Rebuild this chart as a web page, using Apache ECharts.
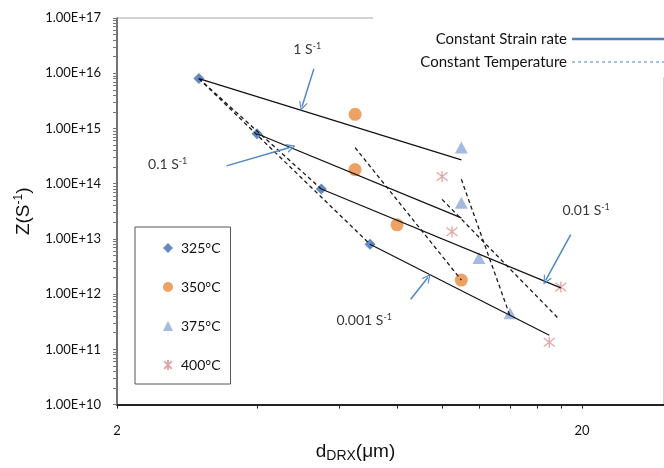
<!DOCTYPE html>
<html>
<head>
<meta charset="utf-8">
<script src="https://cdn.jsdelivr.net/npm/echarts@6/dist/echarts.min.js"></script>
<style>
  html, body { margin: 0; padding: 0; background: #fff; }
  #main { width: 664px; height: 468px; }
</style>
</head>
<body>
<div id="main"></div>
<script>
// grain size (um) and Zener-Hollomon parameter
const temps = ['325°C', '350°C', '375°C', '400°C'];
const d325 = [3, 4, 5.5, 7];
const z325 = [8e15, 8e14, 8e13, 8e12];
const d350 = [6.5, 6.5, 8, 11];
const z350 = [1.8e15, 1.8e14, 1.8e13, 1.8e12];
const d375 = [11, 11, 12, 14];
const z375 = [4.5e14, 4.5e13, 4.5e12, 4.5e11];
const d400 = [10, 10.5, 18, 17];
const z400 = [1.35e14, 1.35e13, 1.35e12, 1.35e11];

// fitted lines, start and end points
const rateLineD = [[3, 11], [4, 11], [5.5, 18], [7, 17]];
const rateLineZ = [[8e15, 2.7e14], [8e14, 2.4e13], [8e13, 1.3e12], [8e12, 1.8e11]];
const tempLineD = [[3, 5.5], [3, 7], [6.5, 11], [11, 14], [10, 17.8]];
const tempLineZ = [[8e15, 8e13], [8e15, 8e12], [4.5e14, 1.8e12], [1.2e14, 4e11], [5.2e13, 3.6e11]];

// strain rate notes and their arrows
const rateLabels = ['1', '0.1', '0.01', '0.001'];
const noteD = [5.13, 2.57, 20.4, 6.8];
const noteZ = [2.7e16, 2.2e14, 3.3e13, 3.3e11];
const arrowFromD = [5.3, 3.44, 18.9, 8.56];
const arrowFromZ = [1.2e16, 2.1e14, 1.2e13, 8.1e11];
const arrowToD = [5.0, 4.74, 16.7, 9.32];
const arrowToZ = [2.5e15, 4.6e14, 1.77e12, 2e12];

const xTickLabels = [2, 20];
const xTicks = [2, 4, 6, 8, 10, 12, 14, 16, 18, 20];
const yTickLabels = [1e10, 1e11, 1e12, 1e13, 1e14, 1e15, 1e16, 1e17];

const yTicks = [];
for (let k = 10; k < 17; k++) {
  for (let m = 1; m < 10; m++) yTicks.push(m * Math.pow(10, k));
}
yTicks.push(1e17);

const zip = (xs, ys) => xs.map((x, i) => [x, ys[i]]);

const font = 'Lato';
const asterisk = 'path://M0,0 L10,10 M10,0 L0,10 M5,-1.5 L5,11.5';
const chevron = 'path://M0,10 L5,0 L10,10 L8.6,10 L5,2.8 L1.4,10 Z';

const scatterStyle = [
  { symbol: 'diamond', symbolSize: 11, itemStyle: { color: '#3d6db5' } },
  { symbol: 'circle', symbolSize: 13, itemStyle: { color: '#e9893c' } },
  { symbol: 'triangle', symbolSize: [13, 12], itemStyle: { color: '#8fa9d8' } },
  { symbol: asterisk, symbolSize: 11, itemStyle: { color: 'rgba(0,0,0,0)', borderColor: '#d9908e', borderWidth: 1.3 } }
];
const pointData = [zip(d325, z325), zip(d350, z350), zip(d375, z375), zip(d400, z400)];

const series = [];
temps.forEach((t, i) => {
  series.push(Object.assign({
    name: t,
    type: 'scatter',
    z: 2,
    data: pointData[i]
  }, scatterStyle[i]));
});

rateLineD.forEach((xs, i) => {
  series.push({
    name: 'Constant Strain rate',
    type: 'line',
    z: 3,
    symbol: 'none',
    silent: true,
    lineStyle: { color: '#111', width: 1.2 },
    data: zip(xs, rateLineZ[i])
  });
});
tempLineD.forEach((xs, i) => {
  series.push({
    name: 'Constant Temperature',
    type: 'line',
    z: 3,
    symbol: 'none',
    silent: true,
    lineStyle: { color: '#1a1a1a', width: 1.3, type: [4, 3] },
    data: zip(xs, tempLineZ[i])
  });
});

series.push({
  name: 'arrows',
  type: 'lines',
  coordinateSystem: 'cartesian2d',
  z: 4,
  symbol: ['none', chevron],
  symbolSize: 9,
  lineStyle: { color: '#4f86c6', width: 1.5, opacity: 1 },
  data: arrowFromD.map((x, i) => ({
    coords: [[x, arrowFromZ[i]], [arrowToD[i], arrowToZ[i]]]
  }))
});

series.push({
  name: 'notes',
  type: 'scatter',
  z: 4,
  symbolSize: 0,
  silent: true,
  data: noteD.map((x, i) => ({ value: [x, noteZ[i]], name: rateLabels[i] })),
  label: {
    show: true,
    position: 'inside',
    formatter: p => `{a|${p.name} S}{s|-1}`,
    rich: {
      a: { fontFamily: font, fontSize: 14, color: '#000', lineHeight: 16 },
      s: { fontFamily: font, fontSize: 9, color: '#000', lineHeight: 10, verticalAlign: 'top' }
    }
  }
});

const hidden = { color: 'rgba(0,0,0,0)', borderWidth: 0, opacity: 0 };

const chart = echarts.init(document.getElementById('main'));
chart.setOption({
  backgroundColor: '#fff',
  animation: false,
  grid: {
    left: 117, top: 18, right: -3, bottom: 55,
    show: true, borderColor: '#a6a6a6', borderWidth: 1
  },
  legend: [
    {
      data: temps,
      orient: 'vertical',
      left: 135,
      top: 227,
      padding: [13, 10, 11, 28],
      itemGap: 23,
      itemWidth: 10,
      itemHeight: 10,
      borderColor: '#555',
      borderWidth: 1,
      selectedMode: false,
      textStyle: { fontFamily: font, fontSize: 14, color: '#111', lineHeight: 16, padding: [0, 0, 0, 3] }
    },
    {
      data: [
        { name: 'Constant Strain rate', itemStyle: hidden, lineStyle: { color: '#4f81bd', width: 2.5, type: 'solid' } },
        { name: 'Constant Temperature', itemStyle: hidden, lineStyle: { color: '#4f81bd', width: 1, type: [3, 3] } }
      ],
      orient: 'vertical',
      align: 'right',
      left: 373,
      top: 12,
      padding: [18, 10, 6, 22],
      itemGap: 5,
      itemWidth: 92,
      itemHeight: 14,
      backgroundColor: '#fff',
      selectedMode: false,
      textStyle: { fontFamily: font, fontSize: 15, color: '#111', lineHeight: 18, width: 172 }
    }
  ],
  xAxis: {
    type: 'log',
    logBase: 10,
    min: 2,
    max: 30,
    name: '{a|d}{b|DRX}{a|(μm)}',
    nameLocation: 'middle',
    nameGap: 33,
    nameTextStyle: {
      padding: [0, 70, 0, 0],
      rich: {
        a: { fontFamily: 'Liberation Sans', fontSize: 19, color: '#111', lineHeight: 22 },
        b: { fontFamily: 'Liberation Sans', fontSize: 14, color: '#111', lineHeight: 12, verticalAlign: 'bottom' }
      }
    },
    axisLine: { onZero: false, lineStyle: { color: '#222', width: 2 } },
    axisTick: { customValues: xTicks, length: 4, lineStyle: { color: '#222' } },
    axisLabel: {
      customValues: xTickLabels,
      margin: 20,
      fontFamily: font,
      fontSize: 13,
      color: '#111',
      formatter: v => String(v)
    },
    splitLine: { show: false },
    minorSplitLine: { show: false }
  },
  yAxis: {
    type: 'log',
    logBase: 10,
    min: 1e10,
    max: 1e17,
    name: '{a|Z(S}{s|-1}{a|)}',
    nameLocation: 'middle',
    nameRotate: 90,
    nameGap: 82,
    nameTextStyle: {
      rich: {
        a: { fontFamily: 'Liberation Sans', fontSize: 19, color: '#111', lineHeight: 22 },
        s: { fontFamily: 'Liberation Sans', fontSize: 12, color: '#111', lineHeight: 12, verticalAlign: 'top' }
      }
    },
    axisLine: { onZero: false, lineStyle: { color: '#555', width: 1.5 } },
    axisTick: { customValues: yTicks, length: 4, lineStyle: { color: '#777' } },
    axisLabel: {
      customValues: yTickLabels,
      margin: 16,
      fontFamily: font,
      fontSize: 13,
      color: '#111',
      formatter: v => '1.00E+' + Math.round(Math.log10(v))
    },
    splitLine: { show: false }
  },
  series: series
});
</script>
</body>
</html>
